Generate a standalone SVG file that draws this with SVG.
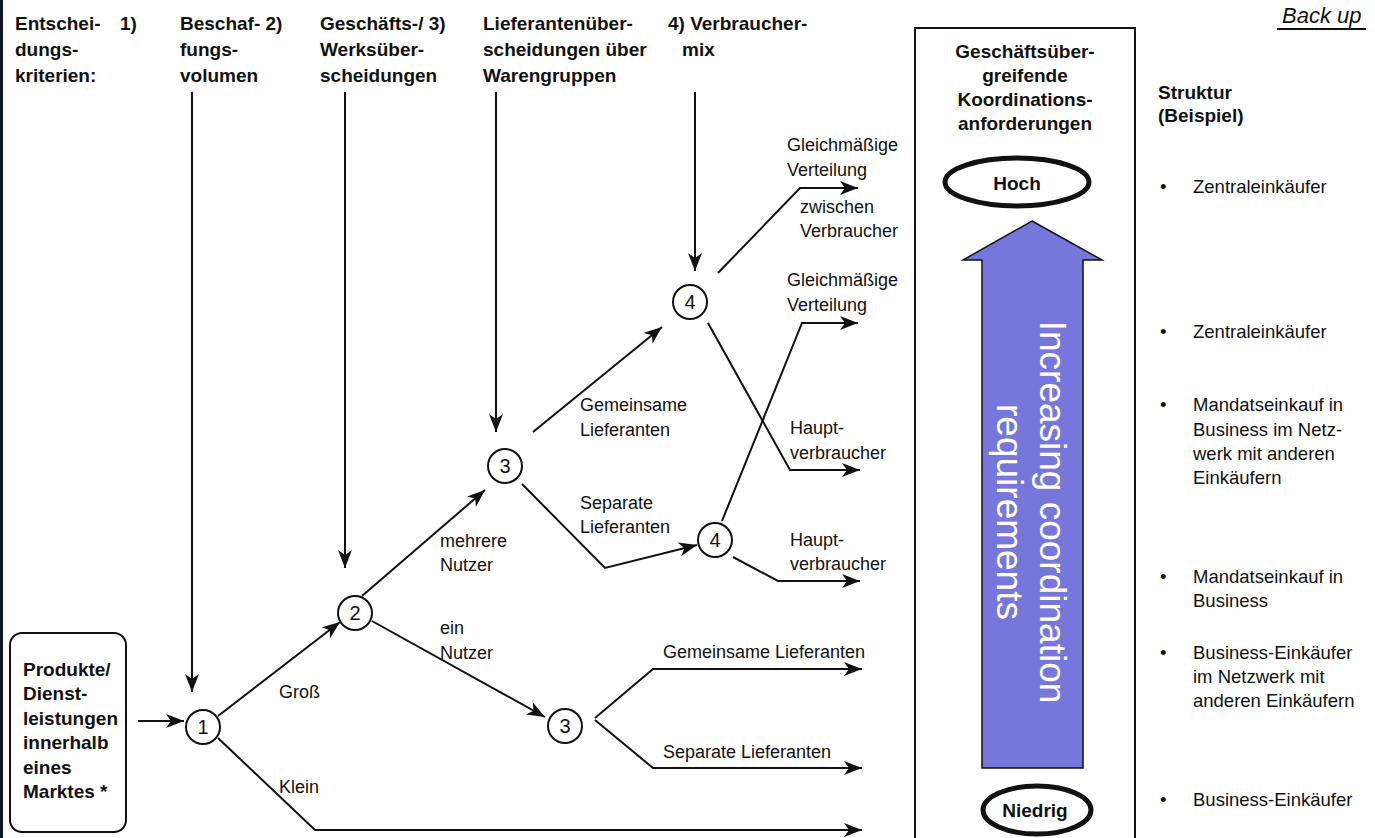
<svg xmlns="http://www.w3.org/2000/svg" width="1375" height="838" viewBox="0 0 1375 838">
<defs>
<style>
.h{font-family:"Liberation Sans",Arial,sans-serif;font-weight:bold;font-size:19px;fill:#111}
.t{font-family:"Liberation Sans",Arial,sans-serif;font-size:18px;fill:#111}
.r{font-family:"Liberation Sans",Arial,sans-serif;font-size:18.5px;fill:#111}
.ln{stroke:#111;stroke-width:2;fill:none}
.arr{marker-end:url(#ah)}
.nd circle{fill:#fff;stroke:#111;stroke-width:2}
.nd text{font-family:"Liberation Sans",Arial,sans-serif;font-size:20px;fill:#111;text-anchor:middle}
.c{text-anchor:middle}
</style>
<marker id="ah" markerUnits="userSpaceOnUse" markerWidth="22" markerHeight="16" refX="18" refY="7" orient="auto">
<path d="M0,0 L18,7 L0,14 L5,7 z" fill="#111"/>
</marker>
</defs>
<rect width="1375" height="838" fill="#fff"/>
<rect x="0" y="0" width="3" height="838" fill="#10152e"/>

<g id="headers">
<text class="h" x="15" y="30">Entschei-</text>
<text class="h" x="15" y="56">dungs-</text>
<text class="h" x="15" y="82">kriterien:</text>
<text class="h" x="120" y="30">1)</text>
<text class="h" x="180" y="30">Beschaf- 2)</text>
<text class="h" x="180" y="56">fungs-</text>
<text class="h" x="180" y="82">volumen</text>
<text class="h" x="320" y="30">Geschäfts-/ 3)</text>
<text class="h" x="320" y="56">Werksüber-</text>
<text class="h" x="320" y="82">scheidungen</text>
<text class="h" x="483" y="30">Lieferantenüber-</text>
<text class="h" x="483" y="56">scheidungen über</text>
<text class="h" x="483" y="82">Warengruppen</text>
<text class="h" x="668" y="30">4) Verbraucher-</text>
<text class="h" x="682" y="56">mix</text>
</g>

<g id="backup">
<text x="1282" y="23" font-family="Liberation Sans, Arial, sans-serif" font-style="italic" font-size="22" fill="#111">Back up</text>
<line x1="1277" y1="29" x2="1366" y2="29" stroke="#111" stroke-width="2"/>
</g>

<g id="start-box">
<rect x="10" y="633" width="116" height="199" rx="12" fill="#fff" stroke="#111" stroke-width="2"/>
<text class="h" x="23" y="676">Produkte/</text>
<text class="h" x="23" y="700">Dienst-</text>
<text class="h" x="23" y="725">leistungen</text>
<text class="h" x="23" y="749">innerhalb</text>
<text class="h" x="23" y="774">eines</text>
<text class="h" x="23" y="798">Marktes *</text>
</g>

<g id="connectors">
<line class="ln arr" x1="192" y1="92" x2="192" y2="692"/>
<line class="ln arr" x1="345" y1="92" x2="345" y2="568"/>
<line class="ln arr" x1="496" y1="92" x2="496" y2="432"/>
<line class="ln arr" x1="695" y1="92" x2="695" y2="271"/>
<line class="ln arr" x1="138" y1="721" x2="184" y2="721"/>
<line class="ln arr" x1="218" y1="716" x2="340" y2="622"/>
<polyline class="ln arr" points="218,738 315,830 862,830"/>
<line class="ln arr" x1="362" y1="596" x2="485" y2="490"/>
<line class="ln arr" x1="372" y1="621" x2="545" y2="717"/>
<polyline class="ln arr" points="595,718 653,669 862,669"/>
<polyline class="ln arr" points="595,720 653,768 862,768"/>
<line class="ln arr" x1="533" y1="432" x2="662" y2="327"/>
<polyline class="ln arr" points="522,484 605,568 697,545"/>
<polyline class="ln arr" points="718,273 800,188 858,188"/>
<polyline class="ln arr" points="708,323 790,470 860,470"/>
<polyline class="ln arr" points="722,521 802,323 858,323"/>
<polyline class="ln arr" points="733,557 778,581 860,581"/>
</g>

<g id="labels">
<text class="t" x="279" y="698">Groß</text>
<text class="t" x="279" y="793">Klein</text>
<text class="t" x="440" y="547">mehrere</text>
<text class="t" x="440" y="571">Nutzer</text>
<text class="t" x="440" y="634">ein</text>
<text class="t" x="440" y="659">Nutzer</text>
<text class="t" x="663" y="658">Gemeinsame Lieferanten</text>
<text class="t" x="663" y="758">Separate Lieferanten</text>
<text class="t" x="580" y="411">Gemeinsame</text>
<text class="t" x="580" y="436">Lieferanten</text>
<text class="t" x="580" y="509">Separate</text>
<text class="t" x="580" y="533">Lieferanten</text>
<text class="t" x="787" y="151">Gleichmäßige</text>
<text class="t" x="787" y="176">Verteilung</text>
<text class="t" x="800" y="213">zwischen</text>
<text class="t" x="800" y="237">Verbraucher</text>
<text class="t" x="787" y="286">Gleichmäßige</text>
<text class="t" x="787" y="311">Verteilung</text>
<text class="t" x="790" y="434">Haupt-</text>
<text class="t" x="790" y="459">verbraucher</text>
<text class="t" x="790" y="546">Haupt-</text>
<text class="t" x="790" y="570">verbraucher</text>
</g>

<g id="node1" class="nd"><circle cx="203" cy="727" r="17"/><text x="203" y="734">1</text></g>
<g id="node2" class="nd"><circle cx="355" cy="613" r="17"/><text x="355" y="620">2</text></g>
<g id="node3a" class="nd"><circle cx="505" cy="466" r="17"/><text x="505" y="473">3</text></g>
<g id="node3b" class="nd"><circle cx="565" cy="726" r="17"/><text x="565" y="733">3</text></g>
<g id="node4a" class="nd"><circle cx="690" cy="302" r="17"/><text x="690" y="309">4</text></g>
<g id="node4b" class="nd"><circle cx="715" cy="540" r="17"/><text x="715" y="547">4</text></g>

<g id="coord-box">
<rect x="915" y="28" width="220" height="830" fill="none" stroke="#111" stroke-width="2"/>
<text class="h c" x="1025" y="58">Geschäftsüber-</text>
<text class="h c" x="1025" y="82">greifende</text>
<text class="h c" x="1025" y="106">Koordinations-</text>
<text class="h c" x="1025" y="130">anforderungen</text>
</g>

<g id="hoch">
<ellipse cx="1017" cy="182" rx="72" ry="24" fill="#fff" stroke="#111" stroke-width="5"/>
<text class="h c" x="1017" y="190">Hoch</text>
</g>

<g id="increase-arrow">
<path d="M1032,221 L1102,260 L1083,260 L1083,768 L982,768 L982,260 L963,260 Z" fill="#7676db" stroke="#111" stroke-width="1.5"/>
<text transform="translate(1040,512) rotate(90)" text-anchor="middle" font-family="Liberation Sans, Arial, sans-serif" font-size="37" fill="#fff">Increasing coordination</text>
<text transform="translate(997,512) rotate(90)" text-anchor="middle" font-family="Liberation Sans, Arial, sans-serif" font-size="37" fill="#fff">requirements</text>
</g>

<g id="niedrig">
<ellipse cx="1037" cy="810" rx="54" ry="24" fill="#fff" stroke="#111" stroke-width="5"/>
<text class="h c" x="1035" y="817" font-size="18">Niedrig</text>
</g>

<g id="struktur">
<text class="h" x="1158" y="99">Struktur</text>
<text class="h" x="1158" y="122">(Beispiel)</text>
<text class="r" x="1160" y="193">•</text><text class="r" x="1193" y="193">Zentraleinkäufer</text>
<text class="r" x="1160" y="338">•</text><text class="r" x="1193" y="338">Zentraleinkäufer</text>
<text class="r" x="1160" y="411">•</text><text class="r" x="1193" y="411">Mandatseinkauf in</text>
<text class="r" x="1193" y="436">Business im Netz-</text>
<text class="r" x="1193" y="460">werk mit anderen</text>
<text class="r" x="1193" y="484">Einkäufern</text>
<text class="r" x="1160" y="583">•</text><text class="r" x="1193" y="583">Mandatseinkauf in</text>
<text class="r" x="1193" y="607">Business</text>
<text class="r" x="1160" y="659">•</text><text class="r" x="1193" y="659">Business-Einkäufer</text>
<text class="r" x="1193" y="683">im Netzwerk mit</text>
<text class="r" x="1193" y="707">anderen Einkäufern</text>
<text class="r" x="1160" y="806">•</text><text class="r" x="1193" y="806">Business-Einkäufer</text>
</g>
</svg>
